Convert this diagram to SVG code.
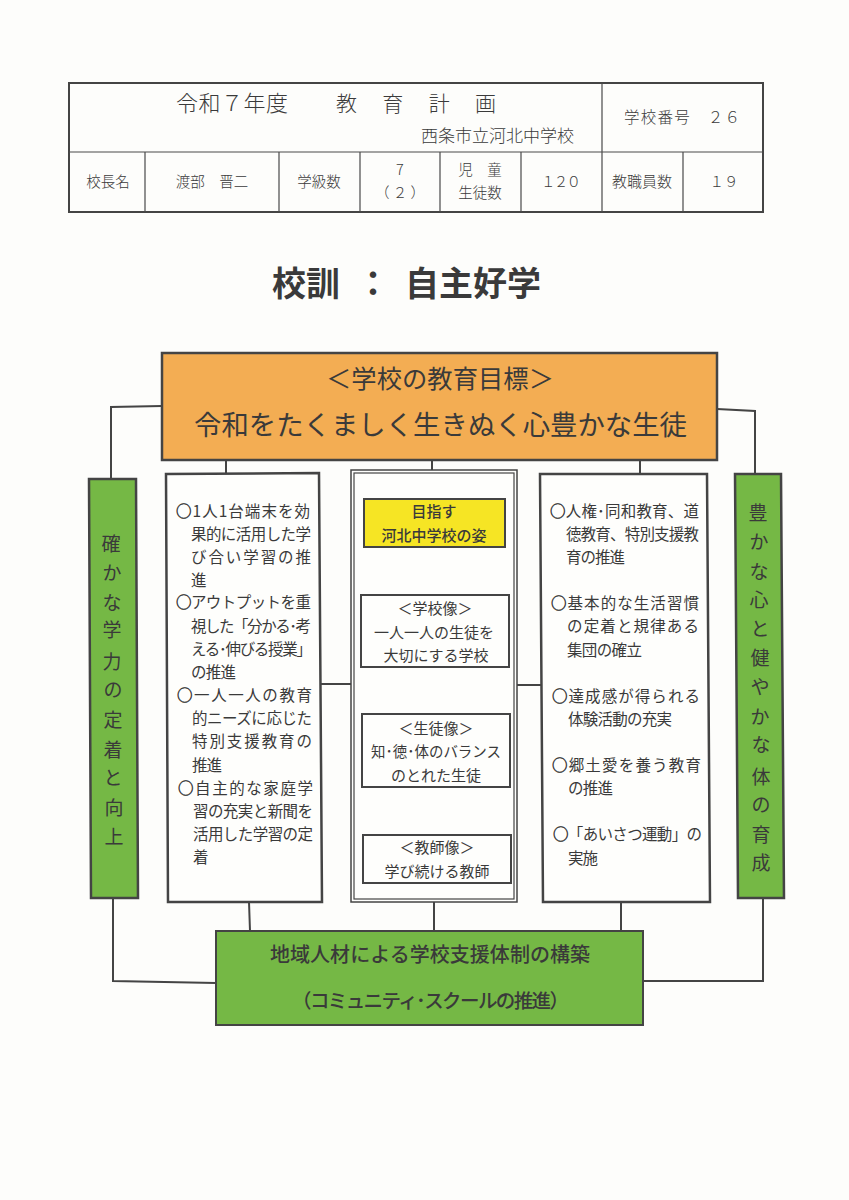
<svg xmlns="http://www.w3.org/2000/svg" width="849" height="1200" viewBox="0 0 849 1200">
<style>
text{font-family:"Noto Sans CJK JP","Noto Sans CJK SC",sans-serif;fill:#3a3a3a}
.b{fill:none;stroke:#444;stroke-width:2}
.t{fill:none;stroke:#4a4a4a;stroke-width:1.2}
.c{fill:none;stroke:#444;stroke-width:2}
.g{fill:#75b845;stroke:#444;stroke-width:2.5}
.w{fill:#fefefc;stroke:#444;stroke-width:2.5}
.h{font-size:14.5px;font-weight:300;text-anchor:middle}
.l{font-size:15.5px}
.m{font-size:15px;text-anchor:middle}
.v{font-size:19px;text-anchor:middle}
.o{stroke:#3a3a3a;stroke-width:.5}
</style>
<rect width="849" height="1200" fill="#fdfdfb"/>
<g id="header-table">
<rect x="69" y="83" width="694" height="129" class="b"/>
<path class="t" d="M69 152H763M602 83V212M145 152V212M279 152V212M360 152V212M440 152V212M521 152V212M683 152V212"/>
<text x="176" y="111" font-size="22" font-weight="300" textLength="112">令和７年度</text>
<text x="336" y="111" font-size="21" font-weight="300" textLength="160">教 育 計 画</text>
<text x="421" y="142" font-size="17" font-weight="300" textLength="153">西条市立河北中学校</text>
<text x="624" y="123" font-size="15.5" font-weight="300" textLength="116">学校番号　２６</text>
<text class="h" x="108" y="187">校長名</text>
<text class="h" x="212" y="187">渡部　晋二</text>
<text class="h" x="319" y="187">学級数</text>
<text class="h" x="400" y="175">7</text>
<text class="h" x="400" y="198">（ ２ ）</text>
<text class="h" x="480" y="175">児　童</text>
<text class="h" x="480" y="198">生徒数</text>
<text class="h" x="561" y="187" textLength="40">１２０</text>
<text class="h" x="642" y="187" style="font-size:15px">教職員数</text>
<text class="h" x="724" y="187">１９</text>
</g>
<g id="motto">
<text x="272" y="296" font-size="34" font-weight="700" textLength="68">校訓</text>
<text x="356" y="296" font-size="34" font-weight="700">：</text>
<text x="405" y="296" font-size="34" font-weight="700" textLength="136">自主好学</text>
</g>
<g id="connectors">
<path class="c" d="M162 406L111 407V479M717 409L755 411V474M226 460V473M432 460V470M640 460V474M321 684H351M517 685H541M113 898V981L216 983M763 898V981H643M249 902L250 931M434 902V931M621 902V931"/>
</g>
<g id="goal">
<rect x="162" y="353" width="555" height="107" fill="#f3ad53" stroke="#444" stroke-width="2.5"/>
<text x="326" y="388" font-size="25.3" textLength="228">＜学校の教育目標＞</text>
<text x="194" y="435" font-size="27.4" textLength="493">令和をたくましく生きぬく心豊かな生徒</text>
</g>
<g id="left-bar">
<polygon class="g" points="89,479 136,479 138,898 91,898"/>
<text class="v" x="111" y="551">確</text><text class="v" x="112" y="580">か</text><text class="v" x="112" y="610">な</text><text class="v" x="112" y="637">学</text><text class="v" x="112" y="669">力</text><text class="v" x="113" y="697">の</text><text class="v" x="113" y="727">定</text><text class="v" x="113" y="757">着</text><text class="v" x="113" y="785">と</text><text class="v" x="114" y="815">向</text><text class="v" x="114" y="844">上</text>
</g>
<g id="left-box">
<polygon class="w" points="166,474 319,473 322,902 168,902"/>
<text class="l" x="176" y="517" textLength="134"><tspan class="o">○</tspan>1人1台端末を効</text>
<text class="l" x="191" y="540" textLength="120">果的に活用した学</text>
<text class="l" x="191" y="563" textLength="120">び合い学習の推</text>
<text class="l" x="191" y="586">進</text>
<text class="l" x="176" y="608" textLength="135"><tspan class="o">○</tspan>アウトプットを重</text>
<text class="l" x="191" y="632" textLength="120">視した「分かる･考</text>
<text class="l" x="191" y="655" textLength="121">える･伸びる授業」</text>
<text class="l" x="191" y="678" textLength="45">の推進</text>
<text class="l" x="177" y="701" textLength="135"><tspan class="o">○</tspan>一人一人の教育</text>
<text class="l" x="192" y="724" textLength="120">的ニーズに応じた</text>
<text class="l" x="192" y="747" textLength="120">特別支援教育の</text>
<text class="l" x="192" y="771" textLength="30">推進</text>
<text class="l" x="178" y="794" textLength="135"><tspan class="o">○</tspan>自主的な家庭学</text>
<text class="l" x="193" y="817" textLength="120">習の充実と新聞を</text>
<text class="l" x="193" y="840" textLength="120">活用した学習の定</text>
<text class="l" x="193" y="863">着</text>
</g>
<g id="center-box">
<rect x="351" y="470" width="166" height="432" fill="#fefefc" stroke="#444" stroke-width="1.5"/>
<rect x="354" y="473" width="160" height="426" fill="none" stroke="#444" stroke-width="1.2"/>
</g>
<g id="aim">
<rect x="364" y="499" width="141" height="48" fill="#f6e524" stroke="#444" stroke-width="2"/>
<text class="m" x="434" y="517" font-weight="500">目指す</text>
<text class="m" x="434" y="541" font-weight="500">河北中学校の姿</text>
</g>
<g id="school-image">
<rect x="361" y="595" width="148" height="72" fill="#fefefc" stroke="#444" stroke-width="2"/>
<text class="m" x="435" y="614">＜学校像＞</text>
<text class="m" x="434" y="638">一人一人の生徒を</text>
<text class="m" x="436" y="661">大切にする学校</text>
</g>
<g id="student-image">
<rect x="362" y="714" width="148" height="73" fill="#fefefc" stroke="#444" stroke-width="2"/>
<text class="m" x="436" y="734">＜生徒像＞</text>
<text class="m" x="436" y="757" textLength="130" lengthAdjust="spacingAndGlyphs">知･徳･体のバランス</text>
<text class="m" x="436" y="781">のとれた生徒</text>
</g>
<g id="teacher-image">
<rect x="363" y="835" width="148" height="48" fill="#fefefc" stroke="#444" stroke-width="2"/>
<text class="m" x="437" y="853">＜教師像＞</text>
<text class="m" x="437" y="877">学び続ける教師</text>
</g>
<g id="right-box">
<polygon class="w" points="540,474 707,474 710,902 543,902"/>
<text class="l" x="550" y="517" textLength="149"><tspan class="o">○</tspan>人権･同和教育、道</text>
<text class="l" x="566" y="540" textLength="133">徳教育、特別支援教</text>
<text class="l" x="566" y="563" textLength="59">育の推進</text>
<text class="l" x="551" y="609" textLength="148"><tspan class="o">○</tspan>基本的な生活習慣</text>
<text class="l" x="567" y="632" textLength="132">の定着と規律ある</text>
<text class="l" x="567" y="656" textLength="75">集団の確立</text>
<text class="l" x="552" y="702" textLength="148"><tspan class="o">○</tspan>達成感が得られる</text>
<text class="l" x="568" y="725" textLength="104">体験活動の充実</text>
<text class="l" x="552" y="771" textLength="149"><tspan class="o">○</tspan>郷土愛を養う教育</text>
<text class="l" x="568" y="794" textLength="45">の推進</text>
<text class="l" x="553" y="840" textLength="149"><tspan class="o">○</tspan>「あいさつ運動」の</text>
<text class="l" x="568" y="864" textLength="30">実施</text>
</g>
<g id="right-bar">
<polygon class="g" points="735,474 781,474 784,898 738,898"/>
<text class="v" x="758" y="520">豊</text><text class="v" x="759" y="549">か</text><text class="v" x="759" y="579">な</text><text class="v" x="759" y="607">心</text><text class="v" x="760" y="636">と</text><text class="v" x="760" y="665">健</text><text class="v" x="760" y="694">や</text><text class="v" x="760" y="724">か</text><text class="v" x="761" y="752">な</text><text class="v" x="761" y="784">体</text><text class="v" x="761" y="812">の</text><text class="v" x="761" y="842">育</text><text class="v" x="761" y="870">成</text>
</g>
<g id="community">
<rect x="216" y="931" width="427" height="94" fill="#75b845" stroke="#444" stroke-width="2"/>
<text x="270" y="962" font-size="20" font-weight="500" textLength="320">地域人材による学校支援体制の構築</text>
<text x="292" y="1008" font-size="19.5" font-weight="500" textLength="277">（コミュニティ･スクールの推進）</text>
</g>
</svg>
